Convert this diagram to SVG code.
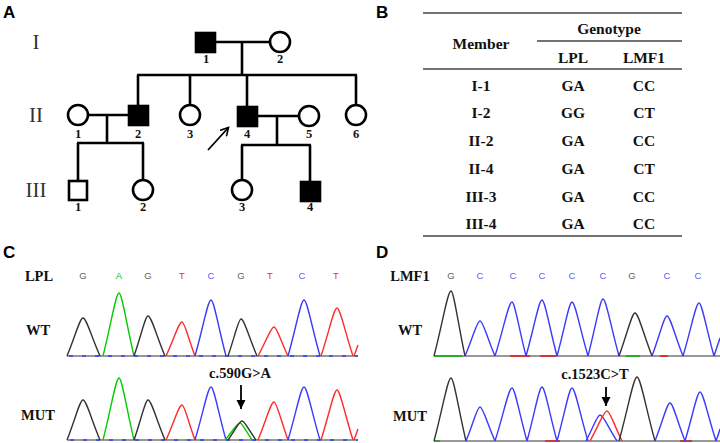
<svg xmlns="http://www.w3.org/2000/svg" width="720" height="443" viewBox="0 0 720 443">
<defs>
<style>
.panel{font-family:"Liberation Sans",Arial,sans-serif;font-weight:bold;font-size:17px;fill:#000}
.gen{font-family:"Liberation Serif","Times New Roman",serif;font-size:21px;fill:#333;text-anchor:middle}
.num{font-family:"Liberation Serif","Times New Roman",serif;font-weight:bold;font-size:12.5px;fill:#111;text-anchor:middle}
.ped{stroke:#000;stroke-width:2.6;fill:none}
.aff{fill:#000;stroke:#000;stroke-width:2.6}
.un{fill:#fff;stroke:#000;stroke-width:2.6}
.tb{font-family:"Liberation Serif","Times New Roman",serif;font-weight:bold;font-size:15.5px;fill:#111;text-anchor:middle}
.rule{stroke:#444;stroke-width:1.4}
.lab{font-family:"Liberation Serif","Times New Roman",serif;font-weight:bold;font-size:14.5px;fill:#111;text-anchor:middle}
.base{font-family:"Liberation Sans",Arial,sans-serif;font-size:9.5px;text-anchor:middle}
.g{fill:#6a6050}.a{fill:#10c010}.t{fill:#f03030}.c{fill:#5a5aff}
.pk{fill:none;stroke-width:1.4;stroke-linejoin:round}
.pG{stroke:#333}.pA{stroke:#00cc00}.pT{stroke:#ff2a2a}.pC{stroke:#3a3aff}
.bl{stroke:#333;stroke-width:1.2}
.bd{stroke:#2a40ff;stroke-width:1.4;stroke-dasharray:4 9}
.mut{font-family:"Liberation Serif","Times New Roman",serif;font-weight:bold;font-size:14.5px;fill:#111;text-anchor:middle}
</style>
<marker id="openHead" markerWidth="10" markerHeight="10" refX="8" refY="5" orient="auto" markerUnits="userSpaceOnUse">
<path d="M0,0.5 L8,5 L0,9.5" fill="none" stroke="#000" stroke-width="1.6"/>
</marker>
<marker id="solidHead" markerWidth="10" markerHeight="10" refX="9" refY="5" orient="auto" markerUnits="userSpaceOnUse">
<path d="M0,0.5 L9,5 L0,9.5 Z" fill="#000"/>
</marker>
</defs>
<rect width="720" height="443" fill="#fff"/>

<!-- Panel letters -->
<text class="panel" x="3" y="18">A</text>
<text class="panel" x="376" y="18">B</text>
<text class="panel" x="3" y="258">C</text>
<text class="panel" x="376" y="258">D</text>

<!-- Pedigree -->
<g id="generation-labels">
<text class="gen" x="36" y="49">I</text>
<text class="gen" x="36" y="122">II</text>
<text class="gen" x="36" y="197">III</text>
</g>
<g id="connectors">
<line class="ped" x1="215" y1="42" x2="270" y2="42"/>
<line class="ped" x1="242" y1="42" x2="242" y2="75"/>
<line class="ped" x1="137" y1="75" x2="357" y2="75"/>
<line class="ped" x1="138" y1="75" x2="138" y2="105"/>
<line class="ped" x1="190" y1="75" x2="190" y2="105"/>
<line class="ped" x1="247" y1="75" x2="247" y2="106"/>
<line class="ped" x1="356" y1="75" x2="356" y2="105"/>
<line class="ped" x1="88" y1="115" x2="128" y2="115"/>
<line class="ped" x1="107" y1="115" x2="107" y2="143"/>
<line class="ped" x1="77" y1="143" x2="144" y2="143"/>
<line class="ped" x1="78" y1="143" x2="78" y2="180"/>
<line class="ped" x1="143" y1="143" x2="143" y2="180"/>
<line class="ped" x1="257" y1="116" x2="299" y2="116"/>
<line class="ped" x1="277" y1="116" x2="277" y2="145"/>
<line class="ped" x1="241" y1="145" x2="311" y2="145"/>
<line class="ped" x1="242" y1="145" x2="242" y2="180"/>
<line class="ped" x1="310" y1="145" x2="310" y2="181"/>
<line x1="208" y1="150" x2="228.5" y2="127.5" stroke="#000" stroke-width="1.8" marker-end="url(#openHead)"/>
</g>
<g id="I-1"><rect class="aff" x="196" y="33" width="19" height="19"/><text class="num" x="206" y="63">1</text></g>
<g id="I-2"><circle class="un" cx="280" cy="42" r="10"/><text class="num" x="280" y="63">2</text></g>
<g id="II-1"><circle class="un" cx="78" cy="115" r="10"/><text class="num" x="78" y="138">1</text></g>
<g id="II-2"><rect class="aff" x="129" y="106" width="19" height="19"/><text class="num" x="138" y="138">2</text></g>
<g id="II-3"><circle class="un" cx="190" cy="115" r="10"/><text class="num" x="190" y="138">3</text></g>
<g id="II-4"><rect class="aff" x="238" y="107" width="19" height="19"/><text class="num" x="247" y="138">4</text></g>
<g id="II-5"><circle class="un" cx="309" cy="116" r="10"/><text class="num" x="309" y="138">5</text></g>
<g id="II-6"><circle class="un" cx="356" cy="115" r="10"/><text class="num" x="356" y="138">6</text></g>
<g id="III-1"><rect class="un" x="69" y="181" width="18" height="19" stroke-width="2.2"/><text class="num" x="78" y="211">1</text></g>
<g id="III-2"><circle class="un" cx="143" cy="190" r="10"/><text class="num" x="143" y="211">2</text></g>
<g id="III-3"><circle class="un" cx="242" cy="190" r="10"/><text class="num" x="242" y="211">3</text></g>
<g id="III-4"><rect class="aff" x="301" y="182" width="19" height="19"/><text class="num" x="310" y="211">4</text></g>

<!-- Table -->
<g id="table">
<line class="rule" x1="423" y1="13" x2="682" y2="13"/>
<line class="rule" x1="537" y1="41" x2="682" y2="41"/>
<line class="rule" x1="423" y1="69" x2="682" y2="69"/>
<line class="rule" x1="423" y1="236" x2="682" y2="236"/>
<text class="tb" x="609" y="33.5">Genotype</text>
<text class="tb" x="481" y="48.5">Member</text>
<text class="tb" x="573" y="62.5">LPL</text>
<text class="tb" x="644" y="62.5">LMF1</text>
<text class="tb" x="481" y="90.5">I-1</text><text class="tb" x="573" y="90.5">GA</text><text class="tb" x="644" y="90.5">CC</text>
<text class="tb" x="481" y="117.5">I-2</text><text class="tb" x="573" y="117.5">GG</text><text class="tb" x="644" y="117.5">CT</text>
<text class="tb" x="481" y="145.5">II-2</text><text class="tb" x="573" y="145.5">GA</text><text class="tb" x="644" y="145.5">CC</text>
<text class="tb" x="481" y="173.5">II-4</text><text class="tb" x="573" y="173.5">GA</text><text class="tb" x="644" y="173.5">CT</text>
<text class="tb" x="481" y="201.5">III-3</text><text class="tb" x="573" y="201.5">GA</text><text class="tb" x="644" y="201.5">CC</text>
<text class="tb" x="481" y="228.5">III-4</text><text class="tb" x="573" y="228.5">GA</text><text class="tb" x="644" y="228.5">CC</text>
</g>

<!-- Panel C -->
<g id="panelC">
<text class="lab" x="39" y="281">LPL</text>
<text class="lab" x="38" y="335">WT</text>
<text class="lab" x="38" y="420">MUT</text>
<g class="base">
<text class="g" x="83" y="279">G</text><text class="a" x="119" y="279">A</text><text class="g" x="148" y="279">G</text>
<text class="t" x="182" y="279">T</text><text class="c" x="211" y="279">C</text><text class="g" x="241" y="279">G</text>
<text class="t" x="270" y="279">T</text><text class="c" x="302" y="279">C</text><text class="t" x="336" y="279">T</text>
</g>
<line class="bl" x1="67" y1="356" x2="358" y2="356"/>
<line class="bd" x1="69" y1="356" x2="358" y2="356"/>
<path class="pk pG" d="M67,356 C75,337 79.8,318 83,318 C86.4,318 91.5,337 100,356"/>
<path class="pk pA" d="M103,356 C111,324.5 115.8,293 119,293 C122,293 126.5,324.5 134,356"/>
<path class="pk pG" d="M134,356 C141,336 145.2,316 148,316 C151.4,316 156.5,336 165,356"/>
<path class="pk pT" d="M166,356 C174,339 178.8,322 182,322 C184.6,322 188.5,339 195,356"/>
<path class="pk pC" d="M195,356 C203,328 207.8,300 211,300 C214,300 218.5,328 226,356"/>
<path class="pk pG" d="M228,356 C234.5,337.5 238.4,319 241,319 C244.2,319 249,337.5 257,356"/>
<path class="pk pT" d="M258,356 C266,341.5 270.8,327 274,327 C276.8,327 281,341.5 288,356"/>
<path class="pk pC" d="M288,356 C296,328 300.8,300 304,300 C307.2,300 312,328 320,356"/>
<path class="pk pT" d="M321,356 C329,332 333.8,308 337,308 C340.2,308 345,332 353,356"/>
<path class="pk pT" d="M354,356 C355.5,352 356.5,349 358,345"/>

<line class="bl" x1="67" y1="440" x2="358" y2="440"/>
<line class="bd" x1="70" y1="440" x2="358" y2="440"/>
<path class="pk pG" d="M67,440 C75,420 79.8,400 83,400 C86.4,400 91.5,420 100,440"/>
<path class="pk pA" d="M103,440 C111,409 115.8,378 119,378 C122,378 126.5,409 134,440"/>
<path class="pk pG" d="M134,440 C141,420 145.2,400 148,400 C151.4,400 156.5,420 165,440"/>
<path class="pk pT" d="M166,440 C174,422.5 178.8,405 182,405 C184.6,405 188.5,422.5 195,440"/>
<path class="pk pC" d="M195,440 C203,413.5 207.8,387 211,387 C214,387 218.5,413.5 226,440"/>
<path class="pk pA" d="M225,440 C232.5,431.5 237,423 240,423 C242.4,423 246,431.5 252,440"/>
<path class="pk pG" d="M228,440 C235,430.5 239.2,421 242,421 C244.8,421 249,430.5 256,440"/>
<path class="pk pT" d="M258,440 C266,421 270.8,402 274,402 C276.8,402 281,421 288,440"/>
<path class="pk pC" d="M288,440 C296,413.5 300.8,387 304,387 C307.2,387 312,413.5 320,440"/>
<path class="pk pT" d="M321,440 C329,415 333.8,390 337,390 C340.2,390 345,415 353,440"/>
<path class="pk pT" d="M354,440 C355.5,436 356.5,433 358,429"/>
<text class="mut" x="240" y="378">c.590G&gt;A</text>
<line x1="241" y1="385" x2="241" y2="409" stroke="#000" stroke-width="1.8" marker-end="url(#solidHead)"/>
</g>

<!-- Panel D -->
<g id="panelD">
<text class="lab" x="410" y="281">LMF1</text>
<text class="lab" x="410" y="335">WT</text>
<text class="lab" x="410" y="421">MUT</text>
<g class="base">
<text class="g" x="451" y="279">G</text><text class="c" x="480" y="279">C</text><text class="c" x="513" y="279">C</text>
<text class="c" x="542" y="279">C</text><text class="c" x="572" y="279">C</text><text class="c" x="603" y="279">C</text>
<text class="g" x="632" y="279">G</text><text class="c" x="667" y="279">C</text><text class="c" x="698" y="279">C</text>
</g>
<line class="bl" x1="434" y1="356" x2="720" y2="356"/>
<line x1="434" y1="356" x2="462" y2="356" stroke="#10b010" stroke-width="1.6"/>
<line x1="510" y1="356" x2="530" y2="356" stroke="#e02020" stroke-width="1.6"/>
<line x1="540" y1="356" x2="556" y2="356" stroke="#e02020" stroke-width="1.6"/>
<line x1="626" y1="356" x2="640" y2="356" stroke="#10b010" stroke-width="1.6"/>
<line x1="660" y1="356" x2="668" y2="356" stroke="#e02020" stroke-width="1.6"/>
<path class="pk pG" d="M434,356 C442.5,323.5 447.6,291 451,291 C453.8,291 458,323.5 465,356"/>
<path class="pk pC" d="M465,356 C472.5,338.5 477,321 480,321 C483,321 487.5,338.5 495,356"/>
<path class="pk pC" d="M495,356 C503.5,329 508.6,302 512,302 C514.8,302 519,329 526,356"/>
<path class="pk pC" d="M526,356 C534,328 538.8,300 542,300 C545,300 549.5,328 557,356"/>
<path class="pk pC" d="M557,356 C564.5,329 569,302 572,302 C575.2,302 580,329 588,356"/>
<path class="pk pC" d="M588,356 C595.5,327.5 600,299 603,299 C606.2,299 611,327.5 619,356"/>
<path class="pk pG" d="M619,356 C627,334.5 631.8,313 635,313 C638.4,313 643.5,334.5 652,356"/>
<path class="pk pC" d="M652,356 C659.5,336 664,316 667,316 C670.2,316 675,336 683,356"/>
<path class="pk pC" d="M683,356 C691,329.5 695.8,303 699,303 C702,303 706.5,329.5 714,356"/>
<path class="pk pC" d="M714,356 C716,350 718,344 720,338"/>

<line class="bl" x1="434" y1="441" x2="720" y2="441"/>
<line x1="434" y1="441" x2="440" y2="441" stroke="#10b010" stroke-width="1.6"/>
<line x1="545" y1="441" x2="560" y2="441" stroke="#e02020" stroke-width="1.6"/>
<line x1="680" y1="441" x2="692" y2="441" stroke="#e02020" stroke-width="1.6"/>
<path class="pk pG" d="M434,441 C442.5,409.5 447.6,378 451,378 C454,378 458.5,409.5 466,441"/>
<path class="pk pC" d="M466,441 C473,424 477.2,407 480,407 C482.9,407 487.5,424 495,441"/>
<path class="pk pC" d="M495,441 C503.5,414.5 508.6,388 512,388 C515,388 519.5,414.5 527,441"/>
<path class="pk pC" d="M527,441 C534.5,414 539,387 542,387 C545,387 549.5,414 557,441"/>
<path class="pk pC" d="M557,441 C564.5,414.5 569,388 572,388 C575.2,388 580,414.5 588,441"/>
<path class="pk pC" d="M586,441 C593,428 597.2,415 600,415 C603.4,415 608.5,428 617,441"/>
<path class="pk pT" d="M590,441 C598.5,426 603.6,411 607,411 C610,411 614.5,426 622,441"/>
<path class="pk pG" d="M619,441 C628,409 633.4,377 637,377 C640.6,377 646,409 655,441"/>
<path class="pk pC" d="M655,441 C662.5,422 667,403 670,403 C673,403 677.5,422 685,441"/>
<path class="pk pC" d="M685,441 C692.5,416.5 697,392 700,392 C703.2,392 708,416.5 716,441"/>
<path class="pk pC" d="M716,441 C717.5,437 718.8,433 720,429"/>
<text class="mut" x="595" y="379">c.1523C&gt;T</text>
<line x1="606" y1="387" x2="606" y2="406" stroke="#000" stroke-width="1.8" marker-end="url(#solidHead)"/>
</g>
</svg>
